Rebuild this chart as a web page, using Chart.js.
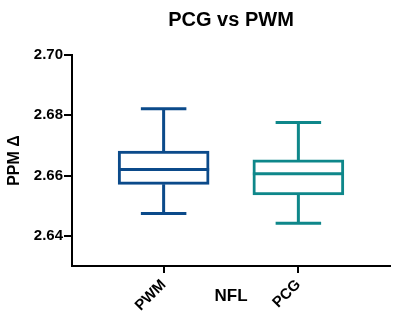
<!DOCTYPE html>
<html>
<head>
<meta charset="utf-8">
<script src="https://cdn.jsdelivr.net/npm/chart.js@4.4.1/dist/chart.umd.min.js"></script>
<style>
    html, body { margin: 0; padding: 0; background: #fff; }
    #wrap { width: 400px; height: 317px; }
</style>
</head>
<body>
<div id="wrap"><canvas id="chart-pcg-pwm"></canvas></div>
<script>
// values
const groups = ["PWM", "PCG"];
const whiskerHigh = [2.6822, 2.6776];
const q3 = [2.6681, 2.6652];
const median = [2.6620, 2.6606];
const q1 = [2.6571, 2.6536];
const whiskerLow = [2.6474, 2.6442];
const yTicks = [2.64, 2.66, 2.68, 2.70];
const colors = ["#0b4a8a", "#0e878a"];

Chart.defaults.font.family = "'Liberation Sans', Arial, sans-serif";
Chart.defaults.color = "#000";

const boldFont = (size) => ({ family: "'Liberation Sans', Arial, sans-serif", weight: "bold", size: size });

// whiskers, caps and median lines on top of the boxes
const whiskerPlugin = {
    id: "whiskers",
    afterDatasetsDraw(chart) {
        const ctx = chart.ctx;
        const x = chart.scales.x;
        const y = chart.scales.y;
        const meta = chart.getDatasetMeta(0);
        ctx.save();
        ctx.lineWidth = 3;
        ctx.lineCap = "butt";
        groups.forEach((g, i) => {
            const cx = x.getPixelForValue(i + 1);
            const half = meta.data[i].width / 2;
            const cap = half / 2;
            const yHi = y.getPixelForValue(whiskerHigh[i]);
            const yLo = y.getPixelForValue(whiskerLow[i]);
            const yMed = y.getPixelForValue(median[i]);
            ctx.strokeStyle = colors[i];
            ctx.beginPath();
            ctx.moveTo(cx, y.getPixelForValue(q3[i]));
            ctx.lineTo(cx, yHi);
            ctx.moveTo(cx - cap, yHi);
            ctx.lineTo(cx + cap, yHi);
            ctx.moveTo(cx, y.getPixelForValue(q1[i]));
            ctx.lineTo(cx, yLo);
            ctx.moveTo(cx - cap, yLo);
            ctx.lineTo(cx + cap, yLo);
            ctx.moveTo(cx - half, yMed);
            ctx.lineTo(cx + half, yMed);
            ctx.stroke();
        });
        ctx.restore();
    },
};

const chartBox = new Chart(document.getElementById("chart-pcg-pwm"), {
    type: "bar",
    data: {
        datasets: [
            {
                label: "NFL",
                data: groups.map((g, i) => ({ x: i + 1, y: [q1[i], q3[i]] })),
                backgroundColor: "#fff",
                borderColor: colors,
                borderWidth: 3,
                borderSkipped: false,
                barThickness: 91,
            },
        ],
    },
    options: {
        responsive: true,
        maintainAspectRatio: false,
        animation: false,
        layout: {
            padding: { top: 0, right: 10, bottom: 0, left: 0 },
        },
        plugins: {
            legend: { display: false },
            tooltip: { enabled: false },
            title: {
                display: true,
                text: "PCG vs PWM",
                fullSize: false,
                color: "#000",
                font: boldFont(20),
                padding: { top: 8, bottom: 23 },
            },
        },
        scales: {
            x: {
                type: "linear",
                min: 0.32,
                max: 2.68,
                offset: false,
                afterBuildTicks: (s) => {
                    s.ticks = groups.map((g, i) => ({ value: i + 1 }));
                },
                afterFit: (s) => {
                    s.height = 51;
                },
                border: { display: true, color: "#000", width: 2 },
                grid: {
                    offset: false,
                    drawOnChartArea: false,
                    color: "#000",
                    lineWidth: 2,
                    tickLength: 7,
                },
                ticks: {
                    autoSkip: false,
                    minRotation: 45,
                    maxRotation: 45,
                    padding: 3,
                    color: "#000",
                    font: boldFont(15),
                    callback: (v) => groups[v - 1],
                },
                title: {
                    display: true,
                    text: "NFL",
                    color: "#000",
                    font: boldFont(17),
                    padding: { top: 0, bottom: 10 },
                },
            },
            y: {
                min: 2.63,
                max: 2.70,
                afterBuildTicks: (s) => {
                    s.ticks = yTicks.map((v) => ({ value: v }));
                },
                afterFit: (s) => {
                    s.width = 72;
                },
                border: { display: true, color: "#000", width: 2 },
                grid: {
                    drawOnChartArea: false,
                    color: "#000",
                    lineWidth: 2,
                    tickLength: 8,
                },
                ticks: {
                    padding: 1,
                    color: "#000",
                    font: boldFont(15),
                    callback: (v) => Number(v).toFixed(2),
                },
                title: {
                    display: true,
                    text: "PPM Δ",
                    color: "#000",
                    font: boldFont(16),
                    padding: { top: 5, bottom: 0 },
                },
            },
        },
    },
    plugins: [whiskerPlugin],
});
</script>
</body>
</html>
